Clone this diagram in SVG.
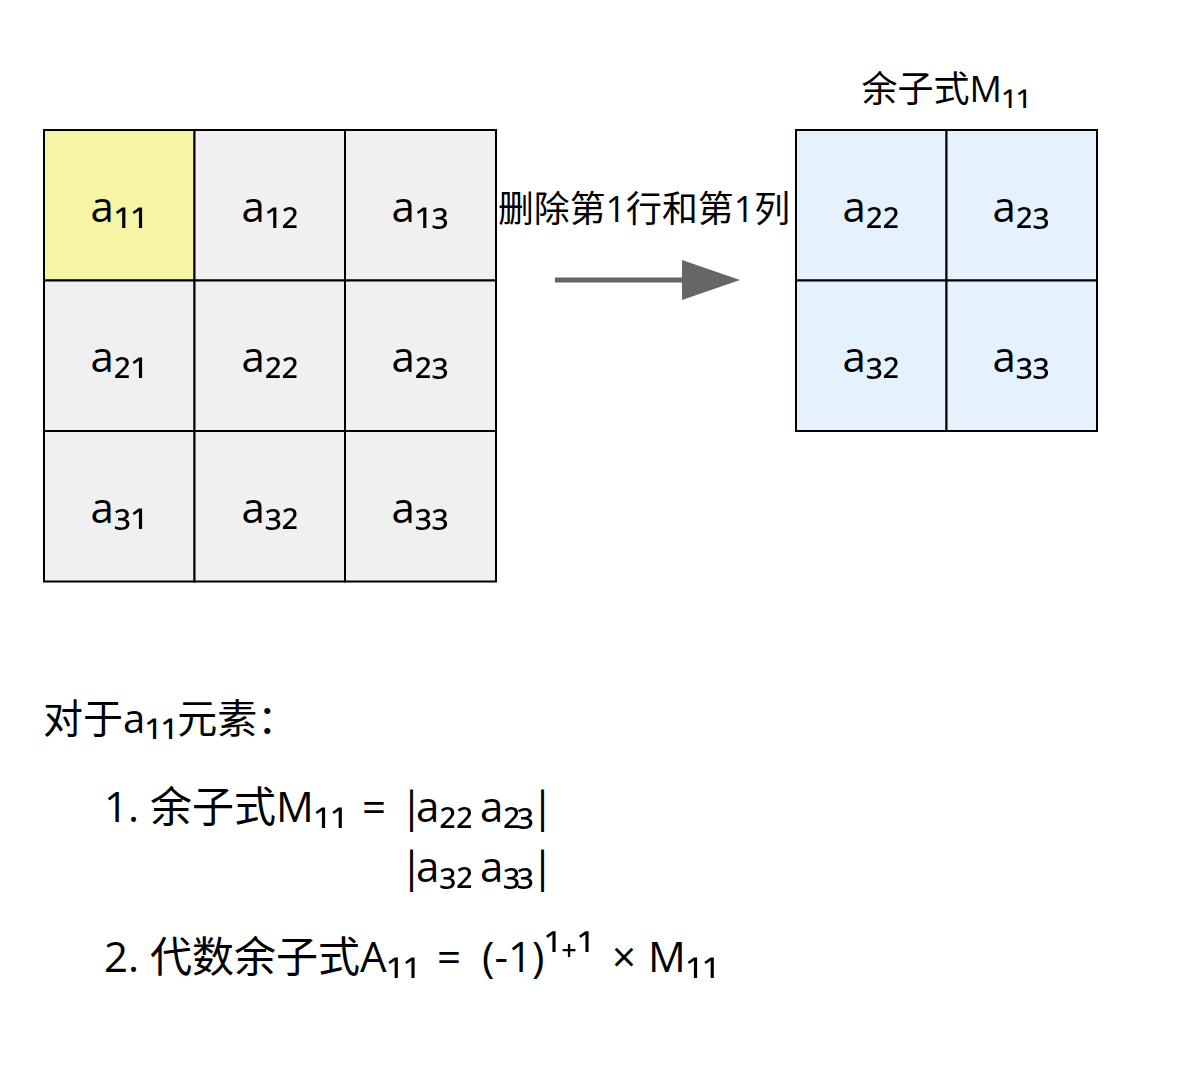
<svg xmlns="http://www.w3.org/2000/svg" width="1184" height="1070" viewBox="0 0 1184 1070">
<style>
text{font-family:"Open Sans","Noto Sans CJK SC",sans-serif;fill:#000}
.cell{stroke:#000;stroke-width:2}
.g{fill:#f0f0f0}
.y{fill:#f5f5a5}
.b{fill:#e5f1fd}
.ct{font-size:42px;text-anchor:middle}
.sb{font-size:1.15em}
.lb{font-size:36px}
.tx{font-size:42px}
.t0{font-size:40px}
.bar{letter-spacing:-7px}
.sp{letter-spacing:-4px}
.se{letter-spacing:-3px}
</style>
<rect width="1184" height="1070" fill="#fff"/>
<g id="matrixA">
<g id="a11"><rect class="cell y" x="44" y="130" width="150.5" height="150.5"/><text class="ct" x="119" y="222">a<tspan class="sb">₁₁</tspan></text></g>
<g id="a12"><rect class="cell g" x="194.5" y="130" width="150.5" height="150.5"/><text class="ct" x="270" y="222">a<tspan class="sb">₁₂</tspan></text></g>
<g id="a13"><rect class="cell g" x="345" y="130" width="151" height="150.5"/><text class="ct" x="420" y="222">a<tspan class="sb">₁₃</tspan></text></g>
<g id="a21"><rect class="cell g" x="44" y="280.5" width="150.5" height="150.5"/><text class="ct" x="119" y="372">a<tspan class="sb">₂₁</tspan></text></g>
<g id="a22"><rect class="cell g" x="194.5" y="280.5" width="150.5" height="150.5"/><text class="ct" x="270" y="372">a<tspan class="sb">₂₂</tspan></text></g>
<g id="a23"><rect class="cell g" x="345" y="280.5" width="151" height="150.5"/><text class="ct" x="420" y="372">a<tspan class="sb">₂₃</tspan></text></g>
<g id="a31"><rect class="cell g" x="44" y="431" width="150.5" height="150.5"/><text class="ct" x="119" y="523">a<tspan class="sb">₃₁</tspan></text></g>
<g id="a32"><rect class="cell g" x="194.5" y="431" width="150.5" height="150.5"/><text class="ct" x="270" y="523">a<tspan class="sb">₃₂</tspan></text></g>
<g id="a33"><rect class="cell g" x="345" y="431" width="151" height="150.5"/><text class="ct" x="420" y="523">a<tspan class="sb">₃₃</tspan></text></g>
</g>
<g id="matrixM">
<g id="m22"><rect class="cell b" x="796" y="130" width="150.5" height="150.5"/><text class="ct" x="871" y="222">a<tspan class="sb">₂₂</tspan></text></g>
<g id="m23"><rect class="cell b" x="946.5" y="130" width="150.5" height="150.5"/><text class="ct" x="1021" y="222">a<tspan class="sb">₂₃</tspan></text></g>
<g id="m32"><rect class="cell b" x="796" y="280.5" width="150.5" height="150.5"/><text class="ct" x="871" y="372">a<tspan class="sb">₃₂</tspan></text></g>
<g id="m33"><rect class="cell b" x="946.5" y="280.5" width="150.5" height="150.5"/><text class="ct" x="1021" y="372">a<tspan class="sb">₃₃</tspan></text></g>
</g>
<g id="titleM"><text class="lb" x="946" y="102" text-anchor="middle">余子式M<tspan class="sb">₁₁</tspan></text></g>
<g id="connectors">
<line x1="555" y1="280" x2="685" y2="280" stroke="#666" stroke-width="5"/>
<polygon points="682,260 740,280 682,300" fill="#666"/>
<text class="lb" x="498" y="222" textLength="292" lengthAdjust="spacingAndGlyphs">删除第1行和第1列</text>
</g>
<g id="notes">
<text class="t0" x="43" y="733">对于a<tspan class="sb">₁₁</tspan>元素：</text>
<text class="tx" x="104" y="822">1. 余子式M<tspan class="sb">₁₁</tspan><tspan x="362">=</tspan><tspan x="400"><tspan class="bar">|</tspan>a<tspan class="sb">₂₂</tspan><tspan class="sp"> </tspan>a<tspan class="sb se">₂₃</tspan>|</tspan></text>
<text class="tx" x="400" y="882"><tspan class="bar">|</tspan>a<tspan class="sb">₃₂</tspan><tspan class="sp"> </tspan>a<tspan class="sb se">₃₃</tspan>|</text>
<text class="tx" x="104" y="972">2. 代数余子式A<tspan class="sb">₁₁</tspan><tspan x="437">=</tspan><tspan x="482">(-1)<tspan class="sb">¹⁺¹</tspan></tspan><tspan x="612">×</tspan><tspan x="648">M<tspan class="sb">₁₁</tspan></tspan></text>
</g>
</svg>
